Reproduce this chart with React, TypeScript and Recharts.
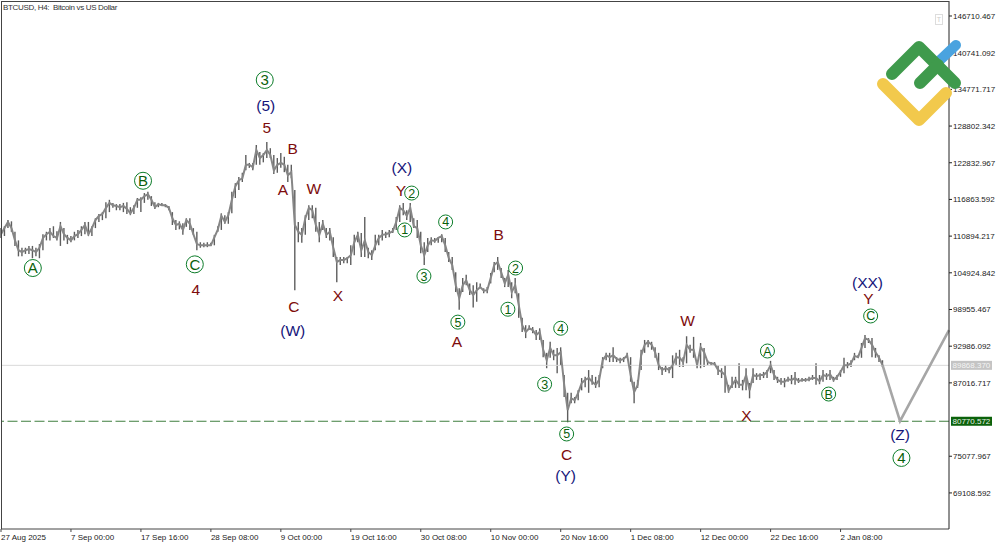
import { Bar, ComposedChart, Line, ReferenceDot, ReferenceLine, XAxis, YAxis } from "recharts";

const FONT = "'Liberation Sans', Arial, sans-serif";

// prices in thousands of USD, one entry per sample of the H4 series
const highs = [
  112.2, 112.5, 113.5, 113.3, 111.6, 110.2, 109.0, 109.0, 109.3, 109.3, 109.0, 109.6, 111.2, 111.6, 112.2, 112.5, 111.7, 113.2, 112.2, 111.1,
  110.9, 111.6, 111.9, 112.5, 113.2, 113.2, 112.5, 113.8, 114.5, 114.8, 116.4, 116.8, 116.3, 116.1, 116.1, 116.3, 116.4, 115.6, 115.9, 117.1,
  117.2, 117.9, 118.1, 117.4, 116.4, 116.3, 116.3, 116.1, 115.8, 114.8, 113.5, 113.3, 113.0, 113.8, 113.8, 112.2, 111.6, 109.9, 109.8, 109.9,
  109.8, 111.1, 112.5, 114.6, 114.3, 114.8, 118.1, 119.5, 120.5, 121.2, 124.1, 122.8, 122.8, 125.7, 124.6, 124.4, 126.2, 125.2, 124.1, 123.6,
  124.4, 123.8, 122.5, 122.5, 118.4, 113.2, 112.2, 114.3, 115.9, 115.9, 115.5, 113.2, 113.5, 112.2, 112.2, 110.7, 107.5, 107.5, 107.5, 107.5,
  109.4, 111.1, 111.6, 111.4, 114.0, 109.0, 108.6, 111.1, 111.1, 111.9, 111.6, 111.9, 112.2, 114.0, 115.9, 116.3, 115.1, 116.3, 113.8, 113.5,
  111.6, 109.9, 110.6, 110.7, 110.6, 110.7, 111.2, 110.6, 108.3, 107.5, 105.0, 102.4, 104.1, 104.6, 103.2, 102.9, 103.4, 103.2, 102.4, 102.6,
  104.9, 106.7, 107.5, 105.7, 104.1, 105.4, 103.4, 104.1, 101.6, 97.6, 96.4, 96.4, 96.1, 95.6, 95.9, 94.0, 91.9, 93.7, 92.4, 92.7,
  92.8, 88.3, 85.4, 85.4, 84.7, 85.8, 87.8, 88.0, 89.1, 88.3, 88.0, 88.3, 91.2, 91.9, 91.9, 92.8, 91.2, 91.1, 91.2, 91.9,
  91.2, 87.2, 87.5, 92.4, 94.0, 94.0, 93.7, 92.8, 91.9, 89.6, 89.9, 89.6, 91.5, 91.9, 92.4, 91.2, 94.6, 93.2, 94.5, 90.7,
  93.5, 92.7, 90.7, 90.4, 90.4, 89.9, 89.4, 89.9, 86.7, 88.0, 88.0, 90.2, 87.5, 89.4, 87.0, 89.4, 88.6, 88.6, 88.8, 89.1,
  90.6, 89.1, 88.0, 87.8, 87.8, 88.0, 88.3, 88.8, 87.8, 87.8, 87.8, 88.0, 88.3, 90.2, 88.3, 89.1, 88.6, 89.1, 88.0, 88.3,
  89.1, 91.1, 90.4, 90.7, 91.9, 91.5, 93.5, 94.8, 94.3, 94.3, 92.7, 91.5, 90.7,
];

const lows = [
  110.6, 110.9, 112.2, 111.6, 109.3, 107.6, 107.6, 108.0, 108.0, 107.3, 107.6, 107.3, 108.6, 110.2, 110.2, 110.6, 110.2, 109.3, 110.2, 109.6,
  109.9, 110.2, 110.6, 110.9, 111.2, 110.9, 110.9, 112.2, 113.2, 113.5, 113.8, 114.8, 115.5, 115.1, 115.1, 114.8, 114.5, 114.3, 114.5, 115.5,
  114.8, 116.3, 116.8, 115.8, 115.3, 115.6, 115.8, 115.6, 115.1, 112.7, 111.9, 112.0, 111.1, 112.4, 111.9, 111.1, 108.6, 109.0, 109.1, 109.1,
  109.3, 109.4, 111.6, 111.9, 112.9, 112.9, 114.6, 117.1, 118.4, 119.7, 121.6, 122.0, 121.6, 122.5, 122.5, 122.9, 123.6, 123.6, 121.0, 121.2,
  122.0, 121.3, 119.7, 120.3, 102.1, 109.9, 109.8, 111.1, 113.5, 113.8, 111.6, 109.9, 111.9, 110.6, 110.2, 107.5, 103.4, 106.2, 106.5, 106.5,
  106.2, 107.8, 109.9, 107.5, 107.5, 107.3, 107.0, 108.6, 109.4, 110.2, 110.6, 110.7, 111.4, 111.9, 113.2, 114.3, 113.5, 113.2, 112.2, 110.6,
  108.1, 106.2, 108.3, 109.4, 109.8, 109.8, 109.9, 108.3, 106.7, 105.4, 101.8, 98.9, 101.8, 102.9, 101.3, 99.3, 100.2, 102.4, 101.6, 101.6,
  103.2, 105.0, 105.4, 104.1, 102.6, 102.6, 100.8, 101.6, 97.6, 95.3, 94.3, 95.6, 95.1, 94.0, 94.0, 91.2, 89.4, 91.1, 90.7, 88.6,
  89.9, 84.7, 80.6, 83.7, 83.7, 84.2, 85.8, 86.3, 85.4, 86.7, 86.2, 86.3, 89.4, 90.7, 90.4, 90.4, 90.4, 90.2, 90.4, 91.1,
  87.2, 83.7, 86.2, 89.1, 91.9, 92.8, 92.4, 91.1, 89.1, 88.3, 88.8, 88.6, 87.8, 89.9, 89.6, 89.6, 90.2, 91.9, 91.1, 89.4,
  89.4, 89.6, 89.9, 89.9, 89.9, 88.3, 87.8, 85.4, 85.4, 86.2, 86.2, 86.2, 85.8, 85.8, 84.5, 87.0, 87.5, 87.5, 87.8, 87.8,
  88.6, 87.5, 87.0, 86.7, 86.3, 87.2, 86.8, 86.7, 87.0, 87.2, 87.2, 87.3, 87.5, 86.7, 86.8, 87.2, 87.5, 87.5, 87.2, 87.5,
  88.0, 88.6, 89.4, 89.6, 90.7, 91.1, 91.1, 92.7, 93.5, 91.2, 91.1, 90.4, 89.6,
];

const closes = [
  111.2, 112.2, 113.2, 112.2, 110.2, 108.6, 108.3, 108.6, 108.8, 108.6, 108.3, 109.0, 110.6, 111.2, 111.6, 110.9, 110.6, 112.5, 111.2, 110.6,
  110.2, 110.9, 111.2, 111.9, 112.7, 111.2, 112.2, 113.5, 114.2, 114.5, 115.5, 116.3, 115.9, 115.8, 115.6, 115.8, 115.3, 114.6, 115.5, 116.8,
  116.8, 117.4, 117.7, 116.8, 115.6, 116.1, 115.9, 115.9, 115.5, 113.8, 112.7, 112.9, 111.9, 113.5, 112.9, 111.2, 109.6, 109.4, 109.4, 109.4,
  109.4, 110.7, 112.0, 114.2, 113.2, 114.3, 116.8, 119.0, 120.0, 120.3, 122.5, 122.5, 122.1, 124.9, 123.6, 124.1, 124.9, 124.1, 121.6, 122.5,
  122.8, 122.5, 120.8, 121.3, 112.7, 111.6, 111.1, 113.8, 115.5, 115.1, 112.7, 111.1, 112.9, 111.1, 111.6, 109.0, 106.7, 107.0, 107.0, 107.3,
  107.8, 109.9, 111.1, 108.6, 110.2, 108.3, 107.8, 109.4, 110.6, 111.1, 111.2, 111.4, 111.7, 113.2, 115.5, 115.1, 114.2, 115.5, 112.5, 112.2,
  109.4, 107.8, 109.4, 110.2, 110.1, 110.6, 110.9, 109.4, 107.3, 106.2, 102.9, 100.8, 102.9, 103.7, 102.1, 101.3, 102.1, 102.6, 102.0, 102.1,
  104.1, 106.2, 106.7, 105.0, 103.2, 104.6, 101.8, 102.9, 99.7, 96.4, 95.3, 95.9, 95.6, 94.8, 95.3, 92.4, 90.7, 92.7, 91.5, 91.5,
  92.0, 86.7, 82.6, 84.5, 84.2, 85.4, 87.0, 87.5, 87.8, 87.2, 86.7, 87.5, 90.7, 91.5, 91.2, 91.5, 90.9, 90.7, 90.9, 91.5,
  88.3, 85.5, 86.7, 91.5, 93.2, 93.7, 93.2, 92.0, 89.9, 89.1, 89.4, 89.1, 89.9, 91.2, 91.1, 90.4, 93.2, 92.4, 92.4, 89.9,
  92.8, 92.0, 90.4, 90.2, 90.1, 89.1, 88.8, 88.3, 85.8, 86.7, 87.5, 86.7, 86.7, 88.3, 85.8, 88.3, 88.1, 88.3, 88.3, 88.8,
  89.9, 88.3, 87.5, 87.2, 87.2, 87.6, 87.5, 87.8, 87.3, 87.5, 87.5, 87.6, 87.8, 87.8, 87.3, 88.3, 88.1, 88.4, 87.5, 88.0,
  88.8, 89.9, 89.9, 90.2, 91.4, 91.2, 92.7, 94.3, 94.0, 93.2, 92.0, 91.1, 89.9,
];

// projected path after the last bar
const forecastBars = [252, 257, 271];
const forecastPrices = [89.9, 80.8, 95.6];

const priceTicks = [
  146710.467, 140741.092, 134771.717, 128802.342, 122832.967, 116863.592, 110894.217, 104924.842, 98955.467, 92986.092, 87016.717,
  75077.967, 69108.592,
];
const dateLabels = [
  "27 Aug 2025", "7 Sep 00:00", "17 Sep 16:00", "28 Sep 08:00", "9 Oct 00:00", "19 Oct 16:00", "30 Oct 08:00", "10 Nov 00:00",
  "20 Nov 16:00", "1 Dec 08:00", "12 Dec 00:00", "22 Dec 16:00", "2 Jan 08:00",
];
const dateTicks = dateLabels.map((_, i) => i * 20);

const lastPrice = 89868.37;
const targetPrice = 80770.572;

type Wave = [string, number, number];
// [label, bar, price in thousands]
const bigCircled: Wave[] = [
  ["3", 75.4, 136.3], ["B", 40.6, 119.9], ["A", 9.1, 105.7], ["C", 55.4, 106.3], ["4", 257.4, 74.8],
];
const smallCircled: Wave[] = [
  ["2", 117.4, 117.9], ["1", 115.4, 111.9], ["4", 127.1, 113.2], ["3", 120.9, 104.4], ["5", 130.6, 96.9],
  ["2", 147.1, 105.7], ["1", 144.9, 99.0], ["4", 160, 95.9], ["3", 155.4, 86.8], ["5", 161.7, 78.7],
  ["A", 219.1, 92.2], ["B", 236.6, 85.2], ["C", 248.6, 97.9],
];
const degreeLabels: Wave[] = [
  ["(5)", 75.7, 132.1], ["(W)", 83.4, 95.6], ["(X)", 114.6, 122.0], ["(Y)", 161.4, 71.9], ["(XX)", 247.7, 103.3], ["(Z)", 257, 78.7],
];
const minorLabels: Wave[] = [
  ["5", 76, 128.5], ["B", 83.4, 125.2], ["A", 80.6, 118.5], ["W", 89.4, 118.7], ["4", 55.7, 102.3], ["C", 83.7, 99.5],
  ["X", 96.3, 101.3], ["Y", 114.3, 118.4], ["B", 142.3, 111.2], ["A", 130.3, 93.8], ["C", 161.7, 75.4], ["W", 196.3, 97.2],
  ["X", 213.1, 81.8], ["Y", 248, 100.7],
];

const rows = [...Array(272).keys()]
  .filter((i) => i < highs.length || forecastBars.includes(i))
  .map((i) => {
    const f = forecastBars.indexOf(i);
    return {
      bar: i,
      range: i < highs.length ? [lows[i] * 1000, highs[i] * 1000] : null,
      close: i < highs.length ? closes[i] * 1000 : null,
      forecast: f >= 0 ? forecastPrices[f] * 1000 : null,
    };
  });

function DateTick({ x, y, index }: any) {
  return (
    <text x={x} y={y + 5.5} fontSize={8} fontFamily={FONT} fill="#222">
      {dateLabels[index]}
    </text>
  );
}

function PriceTag({ viewBox, fill, color, value }: any) {
  const yy = viewBox.y;
  return (
    <g>
      <rect x={951} y={yy - 4.5} width={41} height={9} fill={fill} />
      <text x={952.5} y={yy + 3} fontSize={8} fontFamily={FONT} fill={color}>
        {value}
      </text>
    </g>
  );
}

function Circled({ cx, cy, text, r, size }: any) {
  return (
    <g>
      <circle cx={cx} cy={cy} r={r} fill="#fff" fillOpacity={0.4} stroke="#0d7d2a" strokeWidth={1} />
      <text x={cx} y={cy + size * 0.36} textAnchor="middle" fontSize={size} fontFamily={FONT} fill="#0b5f0b">
        {text}
      </text>
    </g>
  );
}

function Plain({ cx, cy, text, size, color }: any) {
  return (
    <text x={cx} y={cy + size * 0.36} textAnchor="middle" fontSize={size} fontFamily={FONT} fill={color}>
      {text}
    </text>
  );
}

function waveDots(list: Wave[], draw: (p: any, text: string) => any) {
  return list.map(([text, bar, price], i) => (
    <ReferenceDot
      key={text + i + bar}
      x={bar}
      y={price * 1000}
      r={1}
      ifOverflow="visible"
      shape={(p: any) => draw(p, text)}
    />
  ));
}

export default function App() {
  return (
    <div style={{ position: "absolute", left: 0, top: 0, width: 1000, height: 545, background: "#fff" }}>
      <ComposedChart
        width={1000}
        height={545}
        data={rows}
        margin={{ top: 1, right: 0, bottom: 0, left: 1 }}
        barGap={0}
      >
        <XAxis
          dataKey="bar"
          type="number"
          domain={[0, 271]}
          ticks={dateTicks}
          interval={0}
          height={16}
          tickSize={3}
          stroke="#444"
          tick={<DateTick />}
        />
        <YAxis
          orientation="right"
          type="number"
          domain={[63240, 149150]}
          ticks={priceTicks}
          interval={0}
          width={51}
          tickSize={3}
          tickMargin={1}
          stroke="#222"
          tick={{ fontSize: 8, fontFamily: FONT, fill: "#222" }}
          tickFormatter={(v: number) => v.toFixed(3)}
        />
        <ReferenceLine
          y={lastPrice}
          stroke="#d9d9d9"
          strokeWidth={1}
          label={(p: any) => <PriceTag {...p} fill="#c4c4c4" color="#f4f4f4" value={lastPrice.toFixed(3)} />}
        />
        <ReferenceLine
          y={targetPrice}
          stroke="#3f7f3f"
          strokeWidth={1}
          strokeDasharray="10 3.5"
          label={(p: any) => <PriceTag {...p} fill="#0b620b" color="#e8f0e8" value={targetPrice.toFixed(3)} />}
        />
        <Line dataKey="close" stroke="#868686" strokeWidth={2} dot={false} isAnimationActive={false} />
        <Bar dataKey="range" fill="#5e5e5e" barSize={1.4} isAnimationActive={false} />
        <Line dataKey="forecast" stroke="#a6a6a6" strokeWidth={2.6} dot={false} connectNulls isAnimationActive={false} />
        {waveDots(bigCircled, (p, t) => <Circled cx={p.cx} cy={p.cy} text={t} r={8.5} size={15} />)}
        {waveDots(smallCircled, (p, t) => <Circled cx={p.cx} cy={p.cy} text={t} r={7} size={12.5} />)}
        {waveDots(degreeLabels, (p, t) => <Plain cx={p.cx} cy={p.cy} text={t} size={15.5} color="#15157a" />)}
        {waveDots(minorLabels, (p, t) => <Plain cx={p.cx} cy={p.cy} text={t} size={15.5} color="#7d0c0c" />)}
      </ComposedChart>
      <svg width={1000} height={545} style={{ position: "absolute", left: 0, top: 0, pointerEvents: "none" }}>
        <line x1={1.5} y1={1} x2={1.5} y2={529} stroke="#444" />
        <line x1={1} y1={1.5} x2={949} y2={1.5} stroke="#444" />
        <text x={3} y={9.5} fontSize={8} letterSpacing={-0.33} fontFamily={FONT} fill="#333" xmlSpace="preserve">
          BTCUSD, H4:  Bitcoin vs US Dollar
        </text>
        <rect x={935.5} y={14.5} width={7} height={10} fill="#fff" stroke="#ddd" />
        <text x={939} y={22} textAnchor="middle" fontSize={7} fontFamily={FONT} fill="#ccc">T</text>
        <g fill="none" strokeLinecap="round" strokeLinejoin="round">
          <path d="M938 62L956 45" stroke="#4aa3df" strokeWidth={10} />
          <path d="M892 74L919 47L955 83" stroke="#3f9a4c" strokeWidth={12} />
          <path d="M920 83L938 65" stroke="#3f9a4c" strokeWidth={12} />
          <path d="M883 84L919 120L946 93" stroke="#f2c94c" strokeWidth={12} />
        </g>
      </svg>
    </div>
  );
}
